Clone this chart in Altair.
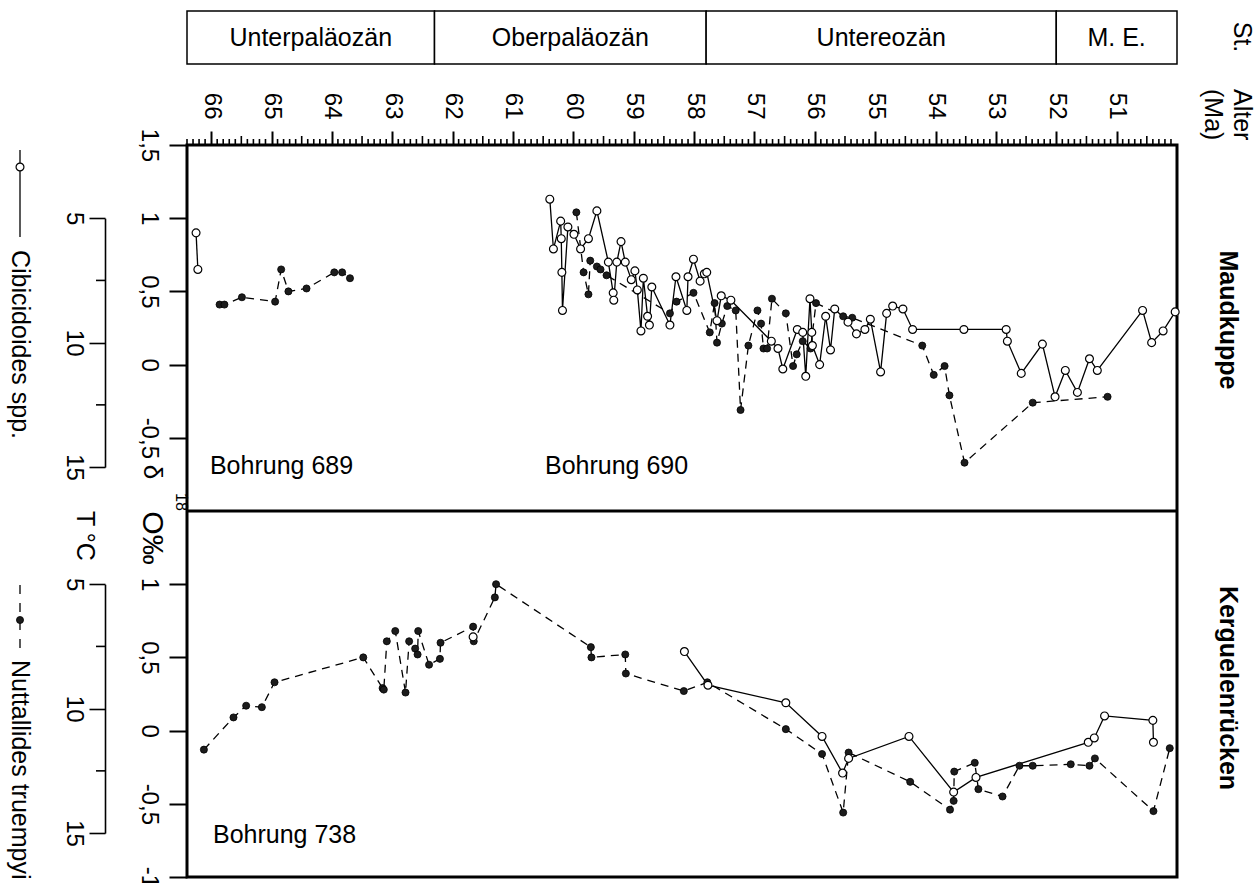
import altair as alt
import pandas as pd

FONT = "Liberation Sans"
W, H = 990, 732          # plot area (both panels)
PANEL = H / 2            # height of one panel

# ---------------- stratigraphy (Ma) ----------------
stage_names = ["Unterpaläozän", "Oberpaläozän", "Untereozän", "M. E."]
stage_start = [66.4, 62.3, 57.8, 52.0]
stage_end = [62.3, 57.8, 52.0, 50.0]

# ---------------- Maudkuppe: Bohrung 689 ----------------
age_689_cib = [66.25, 66.22]
d18o_689_cib = [0.90, 0.65]
age_689_nut = [65.86, 65.78, 65.49, 64.94, 64.84, 64.72, 64.42, 63.96, 63.83, 63.70]
d18o_689_nut = [0.41, 0.41, 0.46, 0.43, 0.65, 0.50, 0.52, 0.63, 0.63, 0.59]

# ---------------- Maudkuppe: Bohrung 690 ----------------
age_690_cib = [60.39, 60.33, 60.21, 60.20, 60.19, 60.18, 60.09, 59.99, 59.88, 59.75,
               59.61, 59.42, 59.34, 59.33, 59.28, 59.21, 59.14, 59.04, 58.98, 58.94,
               58.88, 58.84, 58.77, 58.74, 58.70, 58.40, 58.30, 58.12, 58.10, 58.01,
               57.90, 57.83, 57.79, 57.62, 57.55, 57.39, 56.72, 56.61, 56.53, 56.29,
               56.20, 56.15, 56.08, 56.05, 56.04, 55.92, 55.82, 55.74, 55.67, 55.45,
               55.31, 55.17, 55.08, 54.91, 54.81, 54.71, 54.54, 54.38, 53.53, 52.83,
               52.81, 52.58, 52.23, 52.02, 51.85, 51.65, 51.45, 51.32, 50.57, 50.42,
               50.23, 50.03]
d18o_690_cib = [1.13, 0.79, 0.98, 0.86, 0.63, 0.37, 0.94, 0.89, 0.79, 0.86,
                1.05, 0.70, 0.49, 0.44, 0.70, 0.84, 0.70, 0.58, 0.64, 0.51,
                0.23, 0.59, 0.33, 0.27, 0.53, 0.27, 0.60, 0.37, 0.60, 0.72,
                0.57, 0.62, 0.63, 0.30, 0.47, 0.44, 0.16, 0.11, -0.03, 0.24,
                0.22, -0.08, 0.45, 0.22, 0.13, 0.00, 0.33, 0.10, 0.38, 0.29,
                0.21, 0.24, 0.31, -0.05, 0.35, 0.40, 0.38, 0.24, 0.24, 0.24,
                0.16, -0.06, 0.14, -0.22, -0.04, -0.19, 0.04, -0.04, 0.37, 0.15,
                0.23, 0.36]
age_690_nut = [59.95, 59.83, 59.75, 59.72, 59.61, 59.55, 59.45, 58.40, 58.29, 58.01,
               57.74, 57.66, 57.62, 57.54, 57.45, 57.31, 57.23, 57.10, 56.95, 56.89,
               56.85, 56.79, 56.71, 56.48, 56.36, 56.30, 56.20, 56.07, 55.98, 55.53,
               55.38, 54.22, 54.03, 53.85, 53.77, 53.52, 52.39, 51.15]
d18o_690_nut = [1.04, 0.63, 0.48, 0.71, 0.67, 0.65, 0.61, 0.35, 0.43, 0.49,
                0.22, 0.42, 0.15, 0.28, 0.40, 0.37, -0.31, 0.13, 0.37, 0.28,
                0.11, 0.11, 0.45, 0.35, -0.01, 0.07, 0.16, 0.11, 0.42, 0.33,
                0.32, 0.13, -0.07, -0.01, -0.21, -0.67, -0.26, -0.22]

# ---------------- Kerguelenrücken: Bohrung 738 ----------------
age_738_nut = [66.12, 65.63, 65.42, 65.16, 64.95, 63.48, 63.16, 63.14, 63.09, 62.95,
               62.78, 62.72, 62.62, 62.58, 62.57, 62.39, 62.21, 62.20, 61.66, 61.65,
               61.30, 61.28, 59.71, 59.70, 59.14, 59.13, 58.17, 57.78, 56.48, 55.88,
               55.53, 55.44, 54.42, 53.76, 53.70, 53.69, 53.35, 53.29, 52.89, 52.61,
               52.39, 51.76, 51.45, 51.36, 50.39, 50.12]
d18o_738_nut = [-0.13, 0.09, 0.17, 0.16, 0.33, 0.50, 0.29, 0.28, 0.61, 0.68,
                0.26, 0.61, 0.56, 0.52, 0.68, 0.45, 0.49, 0.60, 0.71, 0.61,
                0.91, 1.00, 0.57, 0.50, 0.52, 0.39, 0.27, 0.33, 0.01, -0.16,
                -0.56, -0.15, -0.35, -0.54, -0.48, -0.28, -0.22, -0.40, -0.45, -0.24,
                -0.24, -0.23, -0.24, -0.19, -0.55, -0.12]
age_738_cib_pal = [61.66]
d18o_738_cib_pal = [0.64]
age_738_cib = [58.16, 57.77, 56.48, 55.88, 55.54, 55.44, 54.44, 53.70, 53.33, 51.47,
               51.37, 51.20, 50.40, 50.39]
d18o_738_cib = [0.54, 0.31, 0.19, -0.04, -0.29, -0.19, -0.04, -0.42, -0.32, -0.08,
                -0.05, 0.10, 0.07, -0.08]

# Borehole captions (age, δ18O)
up_label_text = ["Bohrung 689", "Bohrung 690"]
up_label_age = [66.02, 60.47]
up_label_d18o = [-0.69, -0.69]
lo_label_text = ["Bohrung 738"]
lo_label_age = [65.97]
lo_label_d18o = [-0.71]

# Age ruler: labelled whole Ma, half-Ma and 0.1-Ma subdivisions
age_major = list(range(51, 67))
age_half = [a + 0.5 for a in range(50, 66)]
age_minor = [round(50.0 + 0.1 * i, 1) for i in range(165) if i % 5 != 0]

# Temperature scale: labelled and intermediate ticks (°C),
# and the δ18O equivalents of 5 °C and 15 °C
temp_major = [5, 10, 15]
temp_minor = [7.5, 12.5]
temp_d18o_at_5 = 1.0
temp_d18o_at_15 = -0.70


def frame(ages, vals, seg):
    return pd.DataFrame({"age": ages, "d18O": vals, "seg": seg,
                         "seq": list(range(len(ages)))})


up_cib = pd.concat([frame(age_689_cib, d18o_689_cib, "689"),
                    frame(age_690_cib, d18o_690_cib, "690")])
up_nut = pd.concat([frame(age_689_nut, d18o_689_nut, "689"),
                    frame(age_690_nut, d18o_690_nut, "690")])
lo_cib = pd.concat([frame(age_738_cib_pal, d18o_738_cib_pal, "738a"),
                    frame(age_738_cib, d18o_738_cib, "738b")])
lo_nut = frame(age_738_nut, d18o_738_nut, "738")
up_labels = pd.DataFrame({"age": up_label_age, "d18O": up_label_d18o, "label": up_label_text})
lo_labels = pd.DataFrame({"age": lo_label_age, "d18O": lo_label_d18o, "label": lo_label_text})
stages = pd.DataFrame({"name": stage_names, "start": stage_start, "end": stage_end})
dummy = pd.DataFrame({"k": [0]})

# ---------------- age axis (on top) ----------------
x_scale = alt.Scale(domain=[50.0, 66.4], reverse=True, nice=False, zero=False)
x_axis = alt.Axis(
    orient="top", values=age_major, title=None, grid=False, domain=False,
    tickSize=14, tickColor="black", tickWidth=2,
    format="d", labelAngle=90, labelAlign="right", labelBaseline="middle",
    labelPadding=12, labelFont=FONT, labelFontSize=24, labelColor="black",
    labelOverlap=False, labelFlush=False)


def X(field):
    return alt.X(field, type="quantitative", scale=x_scale, axis=x_axis)


def ruler(values, length):
    return alt.Chart(pd.DataFrame({"tick": values})).mark_rule(
        color="black", strokeWidth=1.6).encode(
        x=X("tick"), y=alt.value(-length), y2=alt.value(0))


delta_label = "replace(replace(format(datum.value, '.1~f'), '.', ','), '\u2212', '-')"


def delta_y(rng, ticks):
    return alt.Y(
        "d18O:Q",
        scale=alt.Scale(domain=[-1, 1.5], range=rng, nice=False, zero=False),
        axis=alt.Axis(orient="left", values=ticks, title=None, grid=False, domain=False,
                      tickSize=18, tickWidth=2, tickColor="black",
                      labelExpr=delta_label, labelAngle=90, labelAlign="center",
                      labelBaseline="top", labelPadding=9, labelFont=FONT,
                      labelFontSize=24, labelColor="black",
                      labelOverlap=False, labelFlush=False))


def panel(cib, nut, labels, y_enc):
    nut_line = alt.Chart(nut).mark_line(color="black", strokeWidth=1.3, strokeDash=[8, 6]).encode(
        x=X("age"), y=y_enc, detail="seg:N", order="seq:Q")
    cib_line = alt.Chart(cib).mark_line(color="black", strokeWidth=1.3).encode(
        x=X("age"), y=y_enc, detail="seg:N", order="seq:Q")
    nut_pts = alt.Chart(nut).mark_circle(size=50, fill="#1c1c1c", stroke="black",
                                         strokeWidth=0.8, opacity=1).encode(x=X("age"), y=y_enc)
    cib_pts = alt.Chart(cib).mark_circle(size=62, fill="white", stroke="black",
                                         strokeWidth=1.2, opacity=1).encode(x=X("age"), y=y_enc)
    txt = alt.Chart(labels).mark_text(font=FONT, fontSize=25, align="left", baseline="middle",
                                      color="black").encode(x=X("age"), y=y_enc, text="label:N")
    return alt.layer(nut_line, cib_line, nut_pts, cib_pts, txt)


upper = panel(up_cib, up_nut, up_labels, delta_y([PANEL, 0], [1.5, 1, 0.5, 0, -0.5]))
lower = panel(lo_cib, lo_nut, lo_labels, delta_y([H, PANEL], [1, 0.5, 0, -0.5, -1]))

T_OFFSET = 82   # distance of the temperature axis from the plot frame


def temp_layer(top):
    rng = [top + (1.5 - temp_d18o_at_5) / 2.5 * PANEL,
           top + (1.5 - temp_d18o_at_15) / 2.5 * PANEL]
    y_t = alt.Y("T:Q", scale=alt.Scale(domain=[5, 15], range=rng, nice=False, zero=False),
                axis=alt.Axis(orient="left", offset=T_OFFSET, values=temp_major, title=None,
                              grid=False, domain=True, domainColor="black", domainWidth=1.6,
                              tickSize=16, tickColor="black", tickWidth=1.6, format="d",
                              labelAngle=90, labelAlign="center", labelBaseline="top",
                              labelPadding=4, labelFont=FONT, labelFontSize=24,
                              labelColor="black", labelOverlap=False, labelFlush=False))
    anchor = alt.Chart(pd.DataFrame({"T": temp_major})).mark_point(opacity=0).encode(
        x=alt.value(0), y=y_t)
    minor = alt.Chart(pd.DataFrame({"T": temp_minor})).mark_rule(
        color="black", strokeWidth=1.6).encode(
        y=y_t, x=alt.value(-T_OFFSET - 9), x2=alt.value(-T_OFFSET))
    return alt.layer(anchor, minor)


def text(t, x, y, size=25, weight="normal", align="center"):
    return alt.Chart(dummy).mark_text(text=t, font=FONT, fontSize=size, fontWeight=weight,
                                      align=align, baseline="middle", angle=90,
                                      color="black").encode(x=alt.value(x), y=alt.value(y))


# stage boxes above the ruler
stage_box = alt.Chart(stages).mark_rect(fill="white", stroke="black", strokeWidth=1.5).encode(
    x=X("start"), x2="end:Q", y=alt.value(-134), y2=alt.value(-81))
stage_txt = alt.Chart(stages).transform_calculate(mid="(datum.start + datum.end) / 2").mark_text(
    font=FONT, fontSize=25, color="black", baseline="middle").encode(
    x=X("mid"), y=alt.value(-107), text="name:N")

# line between the two panels
divider = alt.Chart(dummy).mark_rule(color="black", strokeWidth=3).encode(
    x=alt.value(0), x2=alt.value(W), y=alt.value(PANEL))

# legend on the far left
leg_cib_line = alt.Chart(dummy).mark_rule(color="black", strokeWidth=1.3).encode(
    x=alt.value(-167), y=alt.value(5), y2=alt.value(92))
leg_cib_pt = alt.Chart(dummy).mark_circle(size=62, fill="white", stroke="black",
                                          strokeWidth=1.2, opacity=1).encode(
    x=alt.value(-167), y=alt.value(22))
leg_nut_line = alt.Chart(dummy).mark_rule(color="black", strokeWidth=1.3, strokeDash=[9, 9]).encode(
    x=alt.value(-167), y=alt.value(440), y2=alt.value(506))
leg_nut_pt = alt.Chart(dummy).mark_circle(size=50, fill="#1c1c1c", stroke="black",
                                          strokeWidth=0.8, opacity=1).encode(
    x=alt.value(-167), y=alt.value(475))

decor = [
    text("Cibicidoides spp.", -167, 105, align="left"),
    text("Nuttallides truempyi", -167, 515, align="left"),
    text("T °C", -102, 391),
    text("δ", -35, 327, size=26),
    text("18", -6, 357, size=16),
    text("O‰", -35, 393, size=30),
    text("Maudkuppe", 1041, 175, weight="bold"),
    text("Kerguelenrücken", 1041, 543, weight="bold"),
    text("St.", 1055, -108),
    text("Alter", 1055, -56, align="left"),
    text("(Ma)", 1026, -56, align="left"),
]

chart = alt.layer(
    stage_box, stage_txt, ruler(age_minor, 6), ruler(age_half, 9), divider,
    upper, lower, temp_layer(0), temp_layer(PANEL),
    leg_cib_line, leg_cib_pt, leg_nut_line, leg_nut_pt, *decor,
).resolve_scale(y="independent").properties(
    width=W, height=H,
    padding={"left": 187, "top": 145, "right": 82, "bottom": 6},
    autosize=alt.AutoSizeParams(type="none"),
).configure_view(stroke="black", strokeWidth=3)

chart.save("out.html", embed_options={"renderer": "svg", "actions": False})
